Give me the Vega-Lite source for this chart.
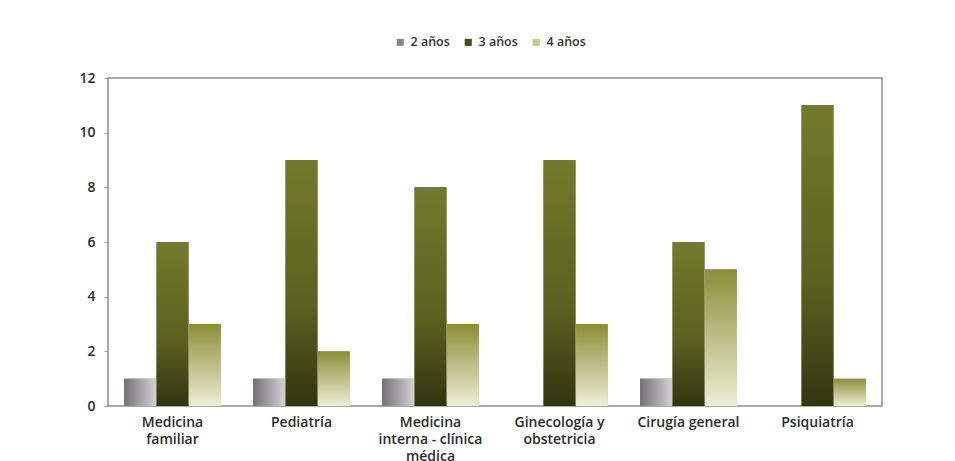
{
  "$schema": "https://vega.github.io/schema/vega-lite/v6.json",
  "autosize": {"type": "none"},
  "width": 774,
  "height": 328,
  "padding": {"left": 108, "top": 78, "right": 73, "bottom": 55},
  "background": "#ffffff",
  "config": {
    "view": {"stroke": "#958c8e", "strokeWidth": 1.5},
    "font": "Open Sans"
  },
  "data": {
    "values": [
      {"area": "Medicina familiar", "grupo": "2 años", "valor": 1},
      {"area": "Medicina familiar", "grupo": "3 años", "valor": 6},
      {"area": "Medicina familiar", "grupo": "4 años", "valor": 3},
      {"area": "Pediatría", "grupo": "2 años", "valor": 1},
      {"area": "Pediatría", "grupo": "3 años", "valor": 9},
      {"area": "Pediatría", "grupo": "4 años", "valor": 2},
      {"area": "Medicina interna - clínica médica", "grupo": "2 años", "valor": 1},
      {"area": "Medicina interna - clínica médica", "grupo": "3 años", "valor": 8},
      {"area": "Medicina interna - clínica médica", "grupo": "4 años", "valor": 3},
      {"area": "Ginecología y obstetricia", "grupo": "2 años", "valor": 0},
      {"area": "Ginecología y obstetricia", "grupo": "3 años", "valor": 9},
      {"area": "Ginecología y obstetricia", "grupo": "4 años", "valor": 3},
      {"area": "Cirugía general", "grupo": "2 años", "valor": 1},
      {"area": "Cirugía general", "grupo": "3 años", "valor": 6},
      {"area": "Cirugía general", "grupo": "4 años", "valor": 5},
      {"area": "Psiquiatría", "grupo": "2 años", "valor": 0},
      {"area": "Psiquiatría", "grupo": "3 años", "valor": 11},
      {"area": "Psiquiatría", "grupo": "4 años", "valor": 1}
    ]
  },
  "encoding": {
    "x": {
      "field": "area",
      "type": "nominal",
      "sort": null,
      "title": null,
      "scale": {"paddingInner": 0.25, "paddingOuter": 0.125},
      "axis": {
        "domain": false,
        "ticks": false,
        "labelAngle": 0,
        "labelPadding": 9,
        "labelFontSize": 14,
        "labelFontWeight": 600,
        "labelFont": "Open Sans",
        "labelColor": "#2b2b2b",
        "labelLineHeight": 17,
        "labelBaseline": "top",
        "labelExpr": "datum.value == 'Medicina familiar' ? ['Medicina', 'familiar'] : datum.value == 'Medicina interna - clínica médica' ? ['Medicina', 'interna - clínica', 'médica'] : datum.value == 'Ginecología y obstetricia' ? ['Ginecología y', 'obstetricia'] : datum.value"
      }
    },
    "xOffset": {
      "field": "grupo",
      "type": "nominal",
      "scale": {"domain": ["2 años", "3 años", "4 años"], "paddingInner": 0.02}
    },
    "y": {
      "field": "valor",
      "type": "quantitative",
      "title": null,
      "scale": {"domain": [0, 12], "nice": false},
      "axis": {
        "values": [0, 2, 4, 6, 8, 10, 12],
        "grid": false,
        "domain": false,
        "tickSize": 4,
        "tickColor": "#a09a9c",
        "labelPadding": 9,
        "labelFontSize": 14,
        "labelFontWeight": 600,
        "labelColor": "#2b2b2b"
      }
    }
  },
  "layer": [
    {
      "mark": {"type": "bar"},
      "encoding": {
        "color": {
          "field": "grupo",
          "type": "nominal",
          "scale": {"domain": ["2 años", "3 años", "4 años"], "range": ["#8a8488", "#474b17", "#c9c98e"]},
          "legend": {
            "title": null,
            "orient": "none",
            "direction": "horizontal",
            "legendX": 286,
            "legendY": -42,
            "symbolType": "square",
            "symbolSize": 50,
            "labelFontSize": 12.5,
            "labelFontWeight": 600,
            "labelColor": "#333333",
            "columnPadding": 12,
            "symbolOffset": 0,
            "labelOffset": 4
          }
        }
      }
    },
    {
      "transform": [{"filter": "datum.grupo == '2 años'"}],
      "mark": {
        "type": "bar",
        "color": {
          "gradient": "linear", "x1": 0, "y1": 0.5, "x2": 1, "y2": 0.5,
          "stops": [{"offset": 0, "color": "#747074"}, {"offset": 1, "color": "#d4d1d4"}]
        }
      }
    },
    {
      "transform": [{"filter": "datum.grupo == '3 años'"}],
      "mark": {
        "type": "bar",
        "color": {
          "gradient": "linear", "x1": 0, "y1": 0, "x2": 0, "y2": 1,
          "stops": [{"offset": 0, "color": "#747a2b"}, {"offset": 0.6, "color": "#5b601f"}, {"offset": 1, "color": "#323510"}]
        }
      }
    },
    {
      "transform": [{"filter": "datum.grupo == '4 años'"}],
      "mark": {
        "type": "bar",
        "color": {
          "gradient": "linear", "x1": 0, "y1": 0, "x2": 0, "y2": 1,
          "stops": [{"offset": 0, "color": "#8c8e38"}, {"offset": 1, "color": "#eeeed6"}]
        }
      }
    }
  ]
}
